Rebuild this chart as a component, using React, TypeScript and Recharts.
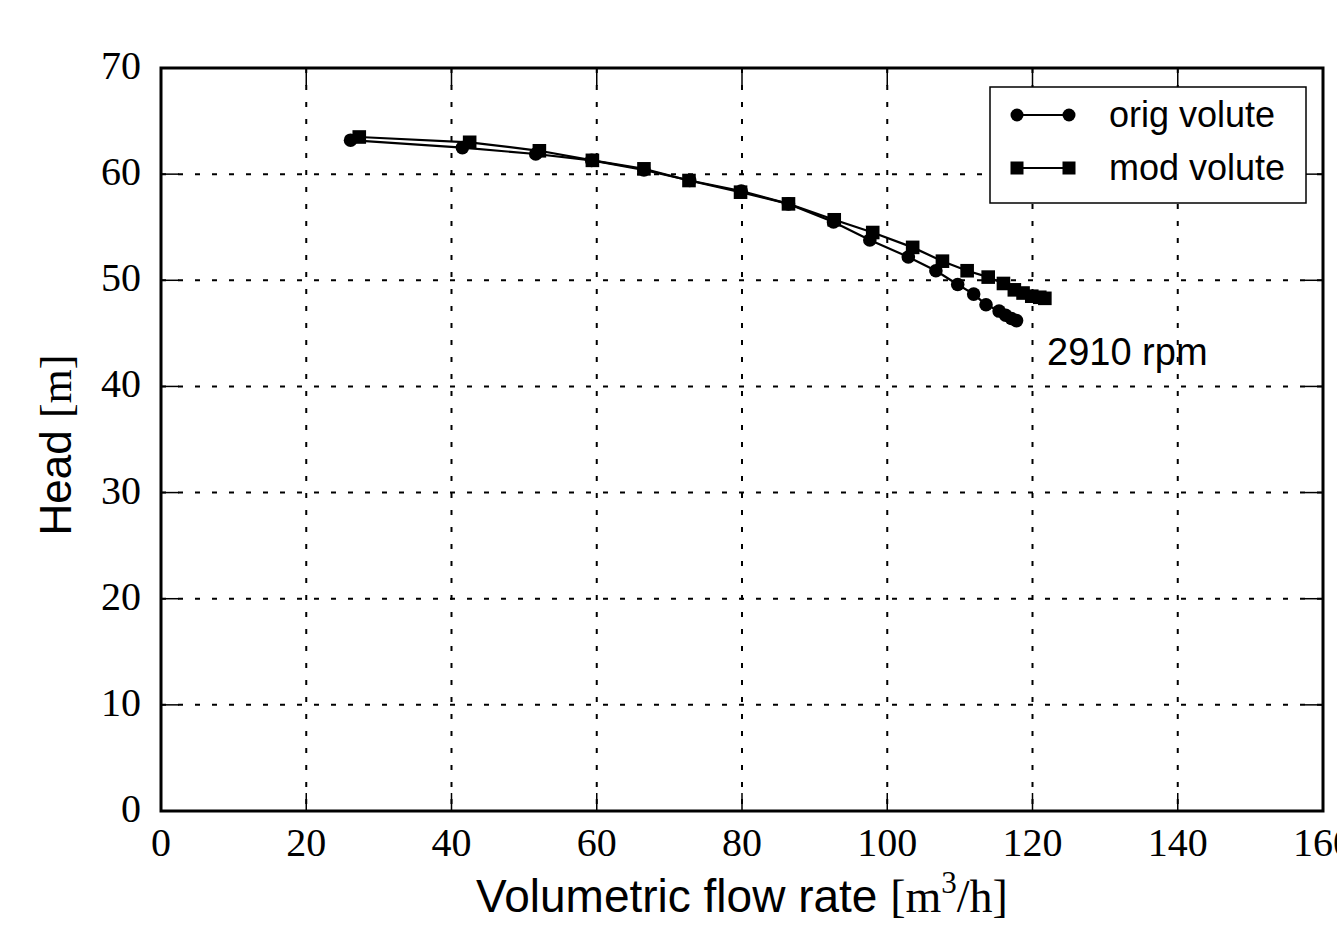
import React from 'react';
import { LineChart, Line, XAxis, YAxis, CartesianGrid, ReferenceArea, ReferenceDot } from 'recharts';

const origFlow = [26.1, 41.5, 51.6, 59.3, 66.5, 72.8, 79.9, 86.4, 92.6, 97.6, 102.9, 106.7, 109.7, 111.9, 113.6, 115.4, 116.3, 117.1, 117.8];
const origHead = [63.2, 62.5, 61.9, 61.3, 60.4, 59.4, 58.4, 57.2, 55.5, 53.8, 52.2, 50.9, 49.6, 48.7, 47.7, 47.1, 46.7, 46.4, 46.2];

const modFlow = [27.3, 42.5, 52.1, 59.4, 66.5, 72.7, 79.8, 86.4, 92.7, 98.0, 103.5, 107.6, 111.0, 113.9, 116.0, 117.5, 118.7, 119.9, 121.0, 121.7];
const modHead = [63.5, 63.0, 62.2, 61.3, 60.5, 59.4, 58.3, 57.2, 55.7, 54.5, 53.1, 51.8, 50.9, 50.3, 49.7, 49.1, 48.8, 48.5, 48.4, 48.3];

const xTicks = [0, 20, 40, 60, 80, 100, 120, 140, 160];
const yTicks = [0, 10, 20, 30, 40, 50, 60, 70];

const W = 1337;
const H = 925;
const PLOT = { left: 161, right: 1323, top: 68, bottom: 811 };
const TICK_LEN = 18;
const SERIF = '"Liberation Serif", "DejaVu Serif", serif';
const SANS = '"Liberation Sans", Arial, sans-serif';

const toPoints = (xs: number[], ys: number[]) => xs.map((x, i) => ({ flow: x, head: ys[i] }));
const origData = toPoints(origFlow, origHead);
const modData = toPoints(modFlow, modHead);

const CircleDot = (props: any) => {
    const { cx, cy, index } = props;
    if (cx == null || cy == null) return <g key={index} />;
    return <circle key={index} cx={cx} cy={cy} r={6.8} fill="#000" />;
};

const SquareDot = (props: any) => {
    const { cx, cy, index } = props;
    if (cx == null || cy == null) return <g key={index} />;
    return <rect key={index} x={cx - 6.8} y={cy - 6.8} width={13.6} height={13.6} fill="#000" />;
};

const XTick = ({ x, payload }: any) => (
    <g>
        <line x1={x} y1={PLOT.bottom} x2={x} y2={PLOT.bottom - TICK_LEN} stroke="#000" strokeWidth={1.5} />
        <line x1={x} y1={PLOT.top} x2={x} y2={PLOT.top + TICK_LEN} stroke="#000" strokeWidth={1.5} />
        <text x={x} y={PLOT.bottom + 45} textAnchor="middle" fontFamily={SERIF} fontSize={40} fill="#000">
            {payload.value}
        </text>
    </g>
);

const YTick = ({ y, payload }: any) => (
    <g>
        <line x1={PLOT.left} y1={y} x2={PLOT.left + TICK_LEN} y2={y} stroke="#000" strokeWidth={1.5} />
        <line x1={PLOT.right} y1={y} x2={PLOT.right - TICK_LEN} y2={y} stroke="#000" strokeWidth={1.5} />
        <text x={PLOT.left - 20} y={y + 11} textAnchor="end" fontFamily={SERIF} fontSize={40} fill="#000">
            {payload.value}
        </text>
    </g>
);

const SERIES = [
    { key: 'orig', label: 'orig volute', data: origData, dot: CircleDot, marker: 'circle' },
    { key: 'mod', label: 'mod volute', data: modData, dot: SquareDot, marker: 'square' },
];

function LegendBox() {
    return (
        <svg
            width={318}
            height={118}
            style={{ position: 'absolute', left: 989, top: 86, pointerEvents: 'none' }}
        >
            <rect x={1} y={1} width={316} height={116} fill="#fff" stroke="#000" strokeWidth={1.5} />
            {SERIES.map((s, i) => {
                const cy = 29 + i * 53;
                return (
                    <g key={s.key}>
                        <line x1={28} y1={cy} x2={80} y2={cy} stroke="#000" strokeWidth={2} />
                        {s.marker === 'circle' ? (
                            <>
                                <circle cx={28} cy={cy} r={6.5} fill="#000" />
                                <circle cx={80} cy={cy} r={6.5} fill="#000" />
                            </>
                        ) : (
                            <>
                                <rect x={21.5} y={cy - 6.5} width={13} height={13} fill="#000" />
                                <rect x={73.5} y={cy - 6.5} width={13} height={13} fill="#000" />
                            </>
                        )}
                        <text x={120} y={cy + 12} fontFamily={SANS} fontSize={36} fill="#000">
                            {s.label}
                        </text>
                    </g>
                );
            })}
        </svg>
    );
}

export default function App() {
    return (
        <div style={{ position: 'absolute', left: 0, top: 0, width: W, height: H, background: '#fff' }}>
            <LineChart
                width={W}
                height={H}
                margin={{ top: PLOT.top, right: W - PLOT.right, bottom: 0, left: 0 }}
            >
                <CartesianGrid
                    stroke="#000"
                    strokeWidth={2}
                    strokeDasharray="5 12"
                    verticalValues={xTicks}
                    horizontalValues={yTicks}
                />
                <XAxis
                    type="number"
                    dataKey="flow"
                    domain={[0, 160]}
                    ticks={xTicks}
                    allowDataOverflow
                    height={H - PLOT.bottom}
                    axisLine={false}
                    tickLine={false}
                    tick={<XTick />}
                    interval={0}
                    label={{
                        content: () => (
                            <text x={(PLOT.left + PLOT.right) / 2} y={912} textAnchor="middle" fill="#000" fontSize={46}>
                                <tspan fontFamily={SANS}>Volumetric flow rate </tspan>
                                <tspan fontFamily={SERIF}> [m</tspan>
                                <tspan fontFamily={SERIF} fontSize={31} dy={-19}>3</tspan>
                                <tspan fontFamily={SERIF} dy={19}>/h]</tspan>
                            </text>
                        ),
                    }}
                />
                <YAxis
                    type="number"
                    dataKey="head"
                    domain={[0, 70]}
                    ticks={yTicks}
                    allowDataOverflow
                    width={PLOT.left}
                    axisLine={false}
                    tickLine={false}
                    tick={<YTick />}
                    interval={0}
                    label={{
                        content: () => (
                            <text
                                x={71}
                                y={445}
                                transform="rotate(-90 71 445)"
                                textAnchor="middle"
                                fill="#000"
                                fontSize={44}
                            >
                                <tspan fontFamily={SANS}>Head </tspan>
                                <tspan fontFamily={SERIF}> [m]</tspan>
                            </text>
                        ),
                    }}
                />
                <ReferenceArea x1={0} x2={160} y1={0} y2={70} fill="none" stroke="#000" strokeWidth={3} />
                {SERIES.map((s) => (
                    <Line
                        key={s.key}
                        data={s.data}
                        dataKey="head"
                        type="linear"
                        stroke="#000"
                        strokeWidth={2.2}
                        dot={s.dot}
                        activeDot={false}
                        isAnimationActive={false}
                    />
                ))}
                <ReferenceDot
                    x={122}
                    y={42}
                    r={0}
                    fill="none"
                    stroke="none"
                    label={{
                        content: ({ viewBox }: any) => (
                            <text x={viewBox.x} y={viewBox.y} fontFamily={SANS} fontSize={38} fill="#000">
                                2910 rpm
                            </text>
                        ),
                    }}
                />
            </LineChart>
            <LegendBox />
        </div>
    );
}
